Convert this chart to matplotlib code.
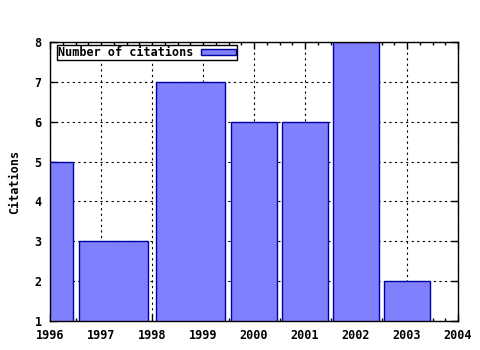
import matplotlib
matplotlib.use('Agg')
import matplotlib.pyplot as plt
from matplotlib.ticker import MultipleLocator
import numpy as np

years = [1996, 1997, 1999, 2000, 2001, 2002, 2003]
citations = [5, 3, 7, 6, 6, 8, 2]
serie = 'Number of citations'

# largura automatica estilo gnuplot: metade da distancia aos vizinhos, * 0.9
x = np.array(years, dtype=float)
meios = (x[1:] + x[:-1]) / 2
esq = np.concatenate(([x[0] - (meios[0] - x[0])], meios))
dir_ = np.concatenate((meios, [x[-1] + (x[-1] - meios[-1])]))
centro = (esq + dir_) / 2
largura = (dir_ - esq) * 0.9

plt.rcParams['font.family'] = ['DejaVu Sans Mono']
plt.rcParams['font.size'] = 8.5
plt.rcParams['font.weight'] = 'bold'

fig = plt.figure(figsize=(4.8, 3.5), dpi=100)
ax = fig.add_axes([50/480, 1-321/350, 408/480, 279/350])

ax.bar(centro, citations, width=largura, bottom=0, color='#8080ff',
       edgecolor='#0000a0', linewidth=1, label=serie, zorder=2)

ax.set_xlim(1996, 2004)
ax.set_ylim(1, 8)
ax.xaxis.set_major_locator(MultipleLocator(1))
ax.xaxis.set_minor_locator(MultipleLocator(0.25))
ax.yaxis.set_major_locator(MultipleLocator(1))
ax.tick_params(which='both', direction='in', top=True, right=True, width=1)
ax.tick_params(which='major', length=5, pad=6)
ax.tick_params(which='minor', length=2.5)
ax.grid(True, which='major', color='black', linestyle=(0, (2, 3)), linewidth=0.8, zorder=0)
ax.set_axisbelow(True)
for s in ax.spines.values():
    s.set_linewidth(1)
    s.set_zorder(3)

ax.set_ylabel('Citations', fontweight='bold', labelpad=10)

leg = ax.legend(loc='upper left', bbox_to_anchor=(7/408, 1 - 3/279), markerfirst=False,
                fancybox=False, framealpha=1, edgecolor='black', borderpad=0.1,
                handlelength=3.0, handleheight=0.45, borderaxespad=0, handletextpad=0.6,
                prop={'weight': 'bold', 'size': 8.5})
leg.get_frame().set_linewidth(1)

fig.savefig('out.png', dpi=100)
